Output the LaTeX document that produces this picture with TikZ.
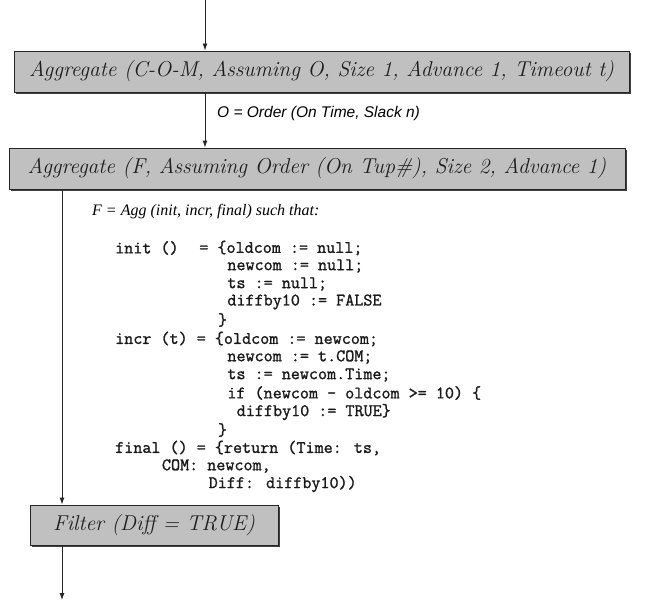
\documentclass[tikz,border=0pt]{standalone}
\usepackage{fontspec}
\newfontfamily\labsans{Liberation Sans}
\newfontfamily\labserif{Liberation Serif}
\newfontfamily\codefont{Latin Modern Mono}[FakeBold=1.3]
\usetikzlibrary{arrows.meta,shadows}
\definecolor{boxgray}{RGB}{192,192,192}
\definecolor{inkgray}{RGB}{30,30,30}
\begin{document}
\begin{tikzpicture}[x=1pt,y=-1pt,
  opbox/.style={draw=black!85, fill=boxgray, line width=0.9pt, inner sep=0pt,
    minimum height=41pt, text=inkgray,
    drop shadow={shadow xshift=2pt, shadow yshift=-2pt, fill=black!75, opacity=1},
    font=\fontsize{21.5}{24}\selectfont\itshape},
  arr/.style={-{Latex[length=7pt,width=5pt]}, line width=0.9pt, draw=black!85},
  codeline/.style={anchor=west, inner sep=0pt, font=\fontsize{17.6}{20}\selectfont\codefont, text=black!90},
]
\useasboundingbox (0,0) rectangle (667,602);
\coordinate (ax) at (205,0);
\coordinate (bx) at (62,0);
\coordinate (end) at (62,600);

\node[opbox, minimum width=615pt] (b1) at (321.5,71.5) {Aggregate (C-O-M, Assuming O, Size 1, Advance 1, Timeout t)};
\node[opbox, minimum width=616pt] (b2) at (317,168.5) {Aggregate (F, Assuming Order (On Tup\#), Size 2, Advance 1)};
\node[opbox, minimum width=248pt, minimum height=40pt] (b3) at (154,525) {Filter (Diff = TRUE)};

\node[anchor=west, inner sep=0pt, font=\labsans\itshape\fontsize{15.5}{17}\selectfont] (lab) at (217,113) {O = Order (On Time, Slack n)};
\node[anchor=west, inner sep=0pt, font=\labserif\itshape\fontsize{16}{18}\selectfont] (fdef) at (92,212) {F = Agg (init, incr, final) such that:};

\def\cw{9.35}
\node[codeline] (c1a) at (115,248) {init ()};
\node[codeline] (c1b) at (115+9*\cw,248) {= \{oldcom := null;};
\node[codeline] (c2) at (115+12*\cw,266) {newcom := null;};
\node[codeline] (c3) at (115+12*\cw,284) {ts := null;};
\node[codeline] (c4) at (115+12*\cw,302) {diffby10 := FALSE};
\node[codeline] (c5) at (115+11*\cw,320) {\}};
\node[codeline] (c6) at (115,339) {incr (t) = \{oldcom := newcom;};
\node[codeline] (c7) at (115+12*\cw,357) {newcom := t.COM;};
\node[codeline] (c8) at (115+12*\cw,375) {ts := newcom.Time;};
\node[codeline] (c9) at (115+12*\cw,393) {if (newcom - oldcom >= 10) \{};
\node[codeline] (c10) at (115+13*\cw,412) {diffby10 := TRUE\}};
\node[codeline] (c11) at (115+11*\cw,430) {\}};
\node[codeline] (c12) at (115,448) {final () = \{return (Time: ts,};
\node[codeline] (c13) at (115+5*\cw,466) {COM: newcom,};
\node[codeline] (c14) at (115+10*\cw,484) {Diff: diffby10))};

\draw[arr] (ax) -- (ax |- b1.north);
\draw[arr] (ax |- b1.south) -- (ax |- b2.north);
\draw[arr] (bx |- b2.south) -- (bx |- b3.north);
\draw[arr] (bx |- b3.south) -- (end);
\end{tikzpicture}
\end{document}
